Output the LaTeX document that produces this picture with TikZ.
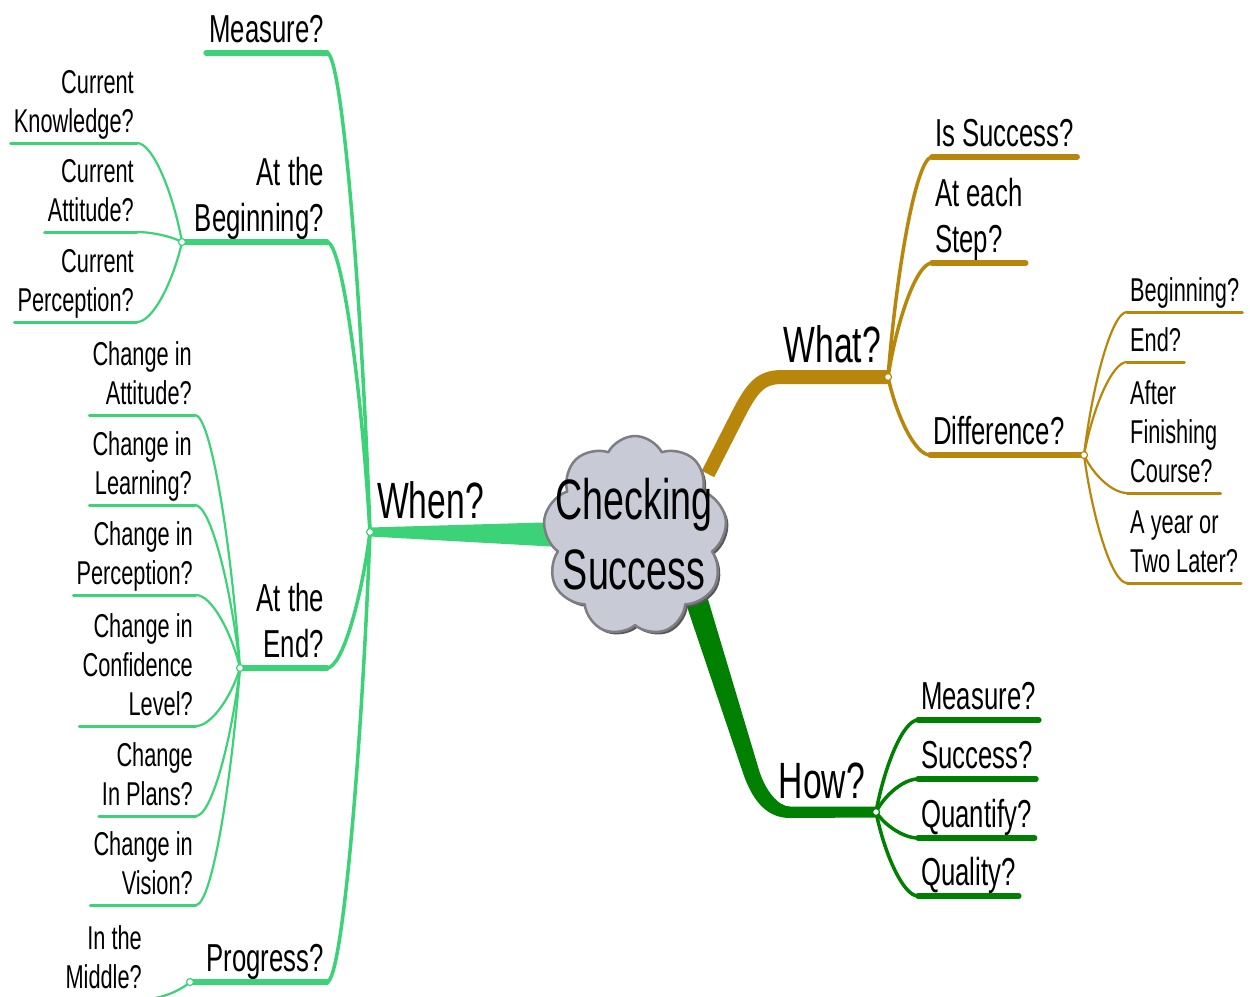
\documentclass[tikz,border=0pt]{standalone}
\usepackage{fontspec}
\setmainfont[FakeStretch=0.66]{Liberation Sans}
\usetikzlibrary{shapes.symbols,calc,shadows}

\definecolor{mint}{RGB}{60,210,120}
\definecolor{gold}{RGB}{184,134,11}
\definecolor{leaf}{RGB}{0,128,0}
\definecolor{cloudfill}{RGB}{200,202,214}
\definecolor{cloudline}{RGB}{125,125,130}

% curved connector from a junction to the near end of a child's underline
\newcommand\branchlink[3][]{%
  \draw[#1] let \p1=(#2), \p2=(#3) in
    (\p1) .. controls ({\x1+0.2*(\x2-\x1)},{\y1+0.5*(\y2-\y1)})
             and ({\x2+0.35*(\x1-\x2)},{\y2}) .. (\p2);}

\begin{document}
\begin{tikzpicture}[x=1pt,y=-1pt,line cap=round,line join=round,
  fontA/.style={font=\fontsize{51}{61}\selectfont},
  fontB/.style={font=\fontsize{39}{46}\selectfont},
  fontC/.style={font=\fontsize{33}{39}\selectfont},
  topic/.style={inner xsep=3pt,inner ysep=10pt,text depth=0pt},
  leftT/.style={topic,anchor=south east,align=right},
  rightT/.style={topic,anchor=south west,align=left},
  ulB/.style={line width=5.5pt},
  ulC/.style={line width=3pt},
  lnB/.style={line width=3.5pt},
  lnC/.style={line width=2.2pt},
  knot/.style={circle,draw,fill=white,line width=1.2pt,inner sep=0pt,minimum size=7pt}]

\useasboundingbox (0,0) rectangle (1250,996);
\fill[white] (0,0) rectangle (1250,996);

% ---------- junctions and trunk roots ----------
\coordinate (jWhen) at (370,532);
\coordinate (jBegin) at (182,242);
\coordinate (jEnd) at (240,668);
\coordinate (jProg) at (190,982);
\coordinate (jWhat) at (888,377);
\coordinate (jDiff) at (1084,455);
\coordinate (jHow) at (876,812);
\coordinate (rootW) at (560,535);
\coordinate (rootNE) at (708,474);
\coordinate (rootS) at (692,586);

% ---------- labels: When side ----------
\node[fontA,anchor=base west,inner sep=0pt] (when) at (377,518) {When?};
\node[fontB,leftT] (measureL) at (327,53) {Measure?};
\node[fontB,leftT] (begin) at (327,242) {At the\\Beginning?};
\node[fontB,leftT] (atend) at (327,668) {At the\\End?};
\node[fontB,leftT] (progress) at (327,982) {Progress?};

\node[fontC,leftT] (know) at (137,143) {Current\\Knowledge?};
\node[fontC,leftT] (attit) at (137,232) {Current\\Attitude?};
\node[fontC,leftT] (percep) at (137,322) {Current\\Perception?};

\node[fontC,leftT] (chAtt) at (195,415) {Change in\\Attitude?};
\node[fontC,leftT] (chLearn) at (195,505) {Change in\\Learning?};
\node[fontC,leftT] (chPerc) at (196,595) {Change in\\Perception?};
\node[fontC,leftT] (chConf) at (196,726) {Change in\\Confidence\\Level?};
\node[fontC,leftT] (chPlans) at (196,816) {Change\\In Plans?};
\node[fontC,leftT] (chVision) at (196,905) {Change in\\Vision?};

\node[fontC,leftT] (middle) at (145,999) {In the\\Middle?};

% ---------- labels: What side ----------
\node[fontA,anchor=base east,inner sep=0pt] (what) at (881,362) {What?};
\node[fontB,rightT] (isSucc) at (932,157) {Is Success?};
\node[fontB,rightT] (eachStep) at (932,263) {At each\\Step?};
\node[fontB,rightT] (diff) at (930,455) {Difference?};
\node[fontC,rightT] (rBeg) at (1127,312) {Beginning?};
\node[fontC,rightT] (rEnd) at (1127,362) {End?};
\node[fontC,rightT] (rAfter) at (1127,493) {After\\Finishing\\Course?};
\node[fontC,rightT] (rYear) at (1127,583) {A year or\\Two Later?};

% ---------- labels: How side ----------
\node[fontA,anchor=base east,inner sep=0pt] (how) at (865,798) {How?};
\node[fontB,rightT] (hMeas) at (918,720) {Measure?};
\node[fontB,rightT] (hSucc) at (918,779) {Success?};
\node[fontB,rightT] (hQuant) at (918,838) {Quantify?};
\node[fontB,rightT] (hQual) at (918,896) {Quality?};

% ---------- When branch ----------
\fill[mint] ($(jWhen)+(0,-4.5)$) -- ($(rootW)+(0,-13)$) -- ($(rootW)+(0,12)$) -- ($(jWhen)+(0,4.5)$) -- cycle;
\begin{scope}[mint]
  \draw[ulB] (measureL.south west) -- (measureL.south east);
  \draw[ulB] (jBegin) -- (begin.south east);
  \draw[ulB] (jEnd) -- (atend.south east);
  \draw[ulB] (jProg) -- (progress.south east);
  \branchlink[lnB]{jWhen}{measureL.south east}
  \branchlink[lnB]{jWhen}{begin.south east}
  \branchlink[lnB]{jWhen}{atend.south east}
  \branchlink[lnB]{jWhen}{progress.south east}

  \foreach \c in {know,attit,percep}{
    \draw[ulC] (\c.south west) -- (\c.south east);
    \branchlink[lnC]{jBegin}{\c.south east}
  }
  \foreach \c in {chAtt,chLearn,chPerc,chConf,chPlans,chVision}{
    \draw[ulC] (\c.south west) -- (\c.south east);
    \branchlink[lnC]{jEnd}{\c.south east}
  }
  \draw[ulC] (middle.south west) -- (middle.south east);
  \branchlink[lnC]{jProg}{middle.south east}
\end{scope}

% ---------- What branch ----------
\begin{scope}[gold]
  \draw[line width=14pt,line cap=butt] (rootNE) -- (738,415)
    .. controls (752,388) and (760,377) .. (782,377) -- (jWhat);
  \foreach \c in {isSucc,eachStep}{
    \draw[ulB] (\c.south west) -- (\c.south east);
    \branchlink[lnB]{jWhat}{\c.south west}
  }
  \draw[ulB] (diff.south west) -- (jDiff);
  \branchlink[lnB]{jWhat}{diff.south west}
  \foreach \c in {rBeg,rEnd,rAfter,rYear}{
    \draw[ulC] (\c.south west) -- (\c.south east);
    \branchlink[lnC]{jDiff}{\c.south west}
  }
\end{scope}

% ---------- How branch (tapered trunk) ----------
\begin{scope}[leaf]
  \fill ($(rootS)+(-12,0)$) -- (742,770)
    .. controls (751,798) and (765,818) .. (790,818) -- ($(jHow)+(0,5.5)$)
    -- ($(jHow)+(0,-5.5)$) -- (790,806.5)
    .. controls (778,806.5) and (765,790) .. (759,770) -- ($(rootS)+(12,0)$) -- cycle;
  \foreach \c in {hMeas,hSucc,hQuant,hQual}{
    \draw[ulB] (\c.south west) -- (\c.south east);
    \branchlink[lnB]{jHow}{\c.south west}
  }
\end{scope}

% ---------- central topic ----------
\node[cloud,cloud puffs=9,cloud puff arc=125,minimum width=184pt,minimum height=200pt,
      fill=cloudfill,draw=cloudline,line width=2.5pt,
      drop shadow={shadow xshift=2.5pt,shadow yshift=-2.5pt,fill=cloudline!70!black,opacity=1}]
      (root) at (635,536) {};
\node[font=\fontsize{57}{70}\selectfont,align=center,inner sep=0pt] (rootText) at (634,534) {Checking\\Success};

% ---------- junction knots ----------
\node[knot,draw=mint] (kWhen) at (jWhen) {};
\node[knot,draw=mint] (kBegin) at (jBegin) {};
\node[knot,draw=mint] (kEnd) at (jEnd) {};
\node[knot,draw=mint] (kProg) at (jProg) {};
\node[knot,draw=gold] (kWhat) at (jWhat) {};
\node[knot,draw=gold] (kDiff) at (jDiff) {};
\node[knot,draw=leaf] (kHow) at (jHow) {};
\end{tikzpicture}
\end{document}
